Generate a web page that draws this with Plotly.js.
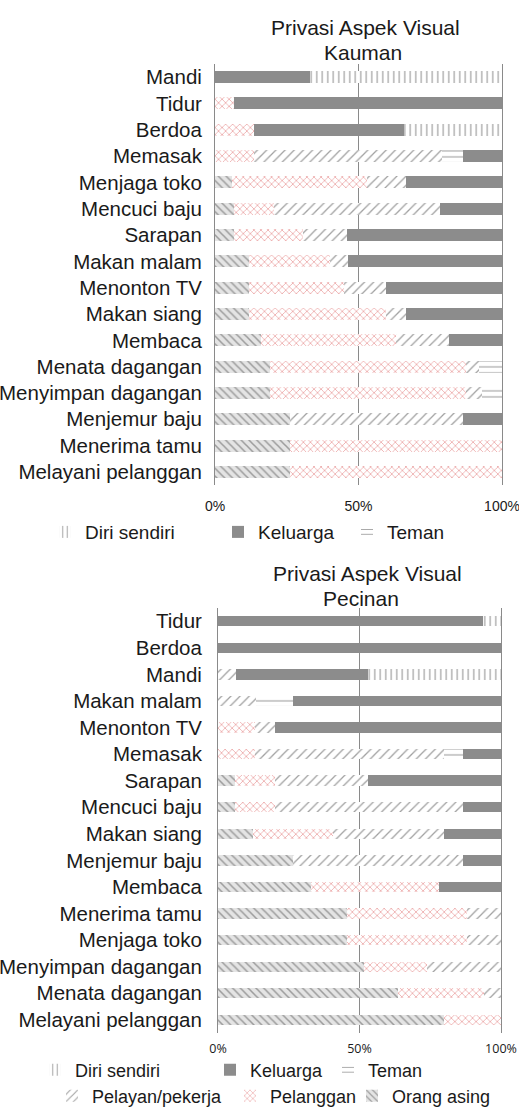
<!DOCTYPE html>
<html><head><meta charset="utf-8">
<script src="https://cdn.plot.ly/plotly-3.0.1.min.js"></script>
<style>html,body{margin:0;padding:0;background:#fff;overflow:hidden}#chart{width:519px;height:1115px}</style>
</head><body><div id="chart"></div>
<script>
// ---------- DATA ----------
const seriesNames = ["Orang asing", "Pelanggan", "Pelayan/pekerja", "Teman", "Keluarga", "Diri sendiri"];
const xTickValues = [0, 50, 100];
const xTickLabels = ["0%", "50%", "100%"];

const kaumanTitle = ["Privasi Aspek Visual", "Kauman"];
const kaumanCategories = ["Mandi","Tidur","Berdoa","Memasak","Menjaga toko","Mencuci baju","Sarapan","Makan malam","Menonton TV","Makan siang","Membaca","Menata dagangan","Menyimpan dagangan","Menjemur baju","Menerima tamu","Melayani pelanggan"];
const kaumanOrangAsing   = [0, 0, 0, 0, 6, 6.5, 6.5, 12, 12, 12, 16, 19, 19, 26, 26, 26];
const kaumanPelanggan    = [0, 6.5, 13.5, 13.5, 47, 14, 24, 28, 33, 47.5, 47, 68.5, 68.5, 0, 74, 74];
const kaumanPelayan      = [0, 0, 0, 65.5, 13.5, 58, 15.5, 6.5, 14.5, 7, 18.5, 4.5, 5.5, 60.5, 0, 0];
const kaumanTeman        = [0, 0, 0, 7.5, 0, 0, 0, 0, 0, 0, 0, 8, 7, 0, 0, 0];
const kaumanKeluarga     = [33, 93.5, 52.5, 13.5, 33.5, 21.5, 54, 53.5, 40.5, 33.5, 18.5, 0, 0, 13.5, 0, 0];
const kaumanDiriSendiri  = [67, 0, 34, 0, 0, 0, 0, 0, 0, 0, 0, 0, 0, 0, 0, 0];

const pecinanTitle = ["Privasi Aspek Visual", "Pecinan"];
const pecinanCategories = ["Tidur","Berdoa","Mandi","Makan malam","Menonton TV","Memasak","Sarapan","Mencuci baju","Makan siang","Menjemur baju","Membaca","Menerima tamu","Menjaga toko","Menyimpan dagangan","Menata dagangan","Melayani pelanggan"];
const pecinanOrangAsing  = [0, 0, 0, 0, 0, 0, 6, 6, 12.5, 26.5, 33, 45.5, 45.5, 51.5, 63.5, 80];
const pecinanPelanggan   = [0, 0, 0, 0, 13, 13, 14, 14, 28, 0, 45, 42.5, 42.5, 22.5, 30.5, 20];
const pecinanPelayan     = [0, 0, 6.5, 13.5, 7, 67, 33, 66.5, 39.5, 60, 0, 12, 12, 26, 6, 0];
const pecinanTeman       = [0, 0, 0, 13, 0, 6.5, 0, 0, 0, 0, 0, 0, 0, 0, 0, 0];
const pecinanKeluarga    = [93.5, 100, 46.5, 73.5, 80, 13.5, 47, 13.5, 20, 13.5, 22, 0, 0, 0, 0, 0];
const pecinanDiriSendiri = [6.5, 0, 47, 0, 0, 0, 0, 0, 0, 0, 0, 0, 0, 0, 0, 0];

// ---------- STYLE ----------
const W = 519, H = 1115;
const FONT = '"Liberation Sans", Arial, sans-serif';
const GRID = '#8a8a8a';
const TXT = '#1a1a1a';
const styles = {
  "Orang asing":     {color:'#e4e4e4', pattern:{shape:'\\', fgcolor:'#9c9c9c', bgcolor:'#e4e4e4', size:5.5, solidity:0.28}},
  "Pelanggan":       {color:'#ffffff', pattern:{shape:'x', fgcolor:'#e37d7d', bgcolor:'#ffffff', size:5, solidity:0.2}},
  "Pelayan/pekerja": {color:'#ffffff', pattern:{shape:'/', fgcolor:'#a0a0a0', bgcolor:'#ffffff', size:6.5, solidity:0.2}},
  "Teman":           {color:'#ffffff', pattern:{shape:'-', fgcolor:'#8c8c8c', bgcolor:'#ffffff', size:6, solidity:0.15}},
  "Keluarga":        {color:'#8c8c8c', pattern:{shape:''}},
  "Diri sendiri":    {color:'#ffffff', pattern:{shape:'|', fgcolor:'#a0a0a0', bgcolor:'#ffffff', size:5.5, solidity:0.22}}
};
const px = v => v / W, py = v => 1 - v / H;

const kauman = [kaumanOrangAsing, kaumanPelanggan, kaumanPelayan, kaumanTeman, kaumanKeluarga, kaumanDiriSendiri];
const pecinan = [pecinanOrangAsing, pecinanPelanggan, pecinanPelayan, pecinanTeman, pecinanKeluarga, pecinanDiriSendiri];

// top chart shows only the first legend row; bottom chart shows all six
const topLegend = {"Diri sendiri":'legend', "Keluarga":'legend2', "Teman":'legend3'};
const botLegend = {"Diri sendiri":'legend4', "Keluarga":'legend5', "Teman":'legend6',
                   "Pelayan/pekerja":'legend7', "Pelanggan":'legend8', "Orang asing":'legend9'};

const traces = [];
seriesNames.forEach((name, i) => {
  const st = styles[name];
  traces.push({
    type:'bar', orientation:'h', name:name, y:kaumanCategories, x:kauman[i],
    xaxis:'x', yaxis:'y', width:0.45,
    marker:{color:st.color, pattern:st.pattern, line:{width:0}},
    legend: topLegend[name] || 'legend', showlegend: !!topLegend[name], hoverinfo:'skip'
  });
});
seriesNames.forEach((name, i) => {
  const st = styles[name];
  traces.push({
    type:'bar', orientation:'h', name:name, y:pecinanCategories, x:pecinan[i],
    xaxis:'x2', yaxis:'y2', width:0.39,
    marker:{color:st.color, pattern:st.pattern, line:{width:0}},
    legend: botLegend[name], showlegend:true, hoverinfo:'skip'
  });
});

function legendAt(textLeft, yCenter, size) {
  return {x: px(textLeft - 40), y: py(yCenter), xanchor:'left', yanchor:'middle',
          orientation:'h', bgcolor:'rgba(0,0,0,0)', borderwidth:0,
          font:{family:FONT, size:size, color:TXT}, itemwidth:30, itemclick:false, itemdoubleclick:false};
}
function titleAt(text, x, y) {
  return {text:text, x:px(x), y:py(y), xref:'paper', yref:'paper', showarrow:false,
          xanchor:'center', yanchor:'middle', font:{family:FONT, size:21, color:TXT}};
}

const xCommon = {range:[0,100], tickmode:'array', tickvals:xTickValues, ticktext:xTickLabels,
                 showgrid:true, gridcolor:GRID, gridwidth:1, zeroline:false, showline:false, ticks:'',
                 ticklabeloverflow:'allow', fixedrange:true};
const yCommon = {type:'category', autorange:'reversed', showline:true, mirror:true, linecolor:GRID, linewidth:1,
                 ticks:'', showgrid:false, zeroline:false, fixedrange:true,
                 tickfont:{family:FONT, size:20.5, color:TXT}};

const layout = {
  width:W, height:H, margin:{l:0, r:0, t:0, b:0},
  paper_bgcolor:'#ffffff', plot_bgcolor:'rgba(0,0,0,0)',
  font:{family:FONT, color:TXT},
  barmode:'stack', showlegend:true,
  xaxis: Object.assign({}, xCommon, {domain:[px(215), px(502)], anchor:'y', ticklabelstandoff:11,
          tickfont:{family:FONT, size:14, color:TXT}}),
  yaxis: Object.assign({}, yCommon, {domain:[py(486), py(64)], anchor:'x', ticklabelstandoff:8}),
  xaxis2: Object.assign({}, xCommon, {domain:[px(218), px(501)], anchor:'y2', ticklabelstandoff:6,
          tickfont:{family:'"Open Sans", sans-serif', size:12.5, color:TXT}}),
  yaxis2: Object.assign({}, yCommon, {domain:[py(1035), py(609)], anchor:'x2', ticklabelstandoff:11}),
  annotations: [
    titleAt(kaumanTitle[0], 365, 28),
    titleAt(kaumanTitle[1], 363, 53),
    titleAt(pecinanTitle[0], 367, 575),
    titleAt(pecinanTitle[1], 361, 600)
  ],
  legend:  legendAt(85, 533, 19),
  legend2: legendAt(258, 533, 19),
  legend3: legendAt(387, 533, 19),
  legend4: legendAt(75, 1072, 18),
  legend5: legendAt(250, 1072, 18),
  legend6: legendAt(368, 1072, 18),
  legend7: legendAt(92, 1098, 18),
  legend8: legendAt(270, 1098, 18),
  legend9: legendAt(392, 1098, 18)
};

Plotly.newPlot('chart', traces, layout, {staticPlot:true, displayModeBar:false});
</script>
</body></html>
